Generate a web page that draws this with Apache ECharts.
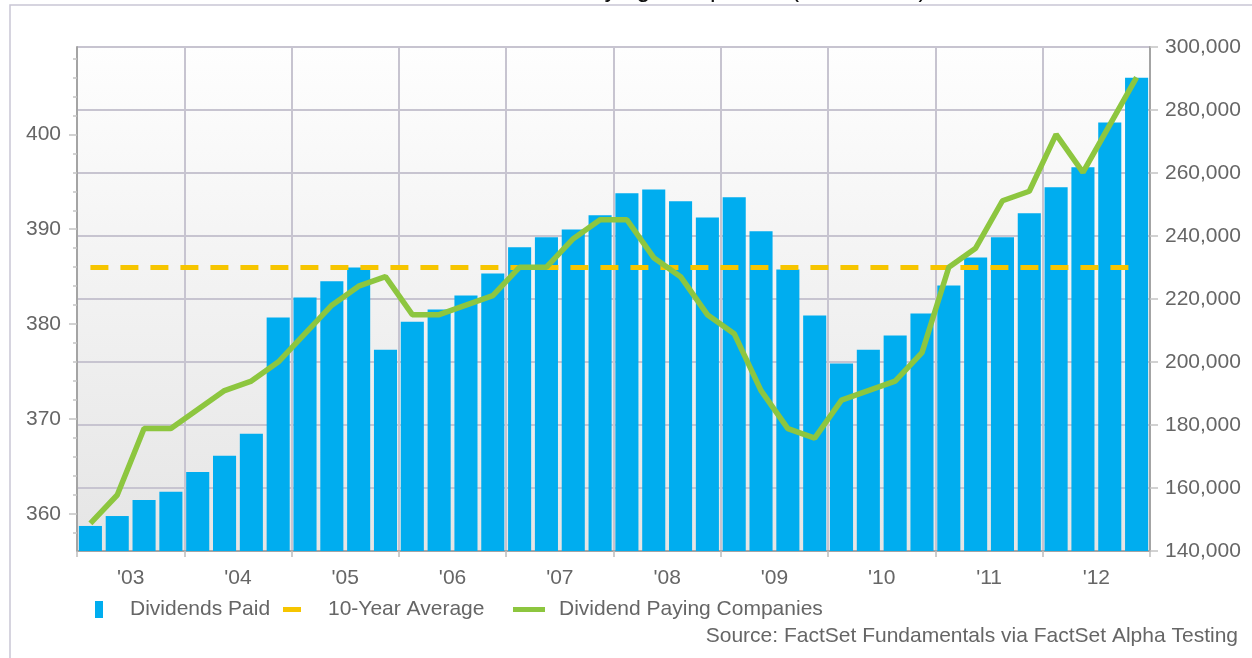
<!DOCTYPE html>
<html>
<head>
<meta charset="utf-8">
<script src="https://cdn.jsdelivr.net/npm/echarts@6/dist/echarts.min.js"></script>
<style>
html,body{margin:0;padding:0;background:#fff;}
#chart{width:1252px;height:658px;}
</style>
</head>
<body>
<div id="chart"></div>
<script>
// ---- data ----
const yearLabels = ["'03","'04","'05","'06","'07","'08","'09","'10","'11","'12"];
const quarters = [
  "Q1 03","Q2 03","Q3 03","Q4 03","Q1 04","Q2 04","Q3 04","Q4 04",
  "Q1 05","Q2 05","Q3 05","Q4 05","Q1 06","Q2 06","Q3 06","Q4 06",
  "Q1 07","Q2 07","Q3 07","Q4 07","Q1 08","Q2 08","Q3 08","Q4 08",
  "Q1 09","Q2 09","Q3 09","Q4 09","Q1 10","Q2 10","Q3 10","Q4 10",
  "Q1 11","Q2 11","Q3 11","Q4 11","Q1 12","Q2 12","Q3 12","Q4 12"
];
// Dividends Paid (right axis)
const dividendsPaid = [
  147950,151100,156200,158800,165100,170200,177200,214100,
  220500,225600,230000,203900,212800,216700,221100,228100,
  236400,239600,242100,246600,253600,254800,251000,245900,
  252300,241500,229400,214800,199500,203900,208400,215400,
  224300,233200,239600,247200,255500,261800,276000,290200
];
// Dividend Paying Companies (left axis)
const payingCompanies = [
  359,362,369,369,371,373,374,376,
  379,382,384,385,381,381,382,383,
  386,386,389,391,391,387,385,381,
  379,373,369,368,372,373,374,377,
  386,388,393,394,400,396,401,406
];
// 10-Year Average (right-axis units)
const tenYearAverage = 230000;
const leftLabelTicks = [360,370,380,390,400];
const leftMinorTicks = [358,362,364,366,368,372,374,376,378,382,384,386,388,392,394,396,398,402,404,406,408];
const rightTicks = {min:140000, max:300000, step:20000};

const FONT = '"Liberation Sans", Arial, Helvetica, sans-serif';
const GRID_LINE = '#c7c4d0';
const AXIS_LINE = '#a4a4a4';
const TEXT = '#666666';

const chart = echarts.init(document.getElementById('chart'), null, {renderer:'canvas'});
chart.setOption({
  animation: false,
  backgroundColor: '#ffffff',
  textStyle: {fontFamily: FONT},
  title: {
    text: 'S&P 500 Dividend Paying Companies (2003-2012)',
    left: 359, top: -27,
    textStyle: {fontSize: 25, color: '#111', fontWeight: 'normal', fontFamily: FONT}
  },
  graphic: [
    {type:'rect', z:-10, silent:true, shape:{x:10,y:5,width:1400,height:800},
     style:{fill:'none', stroke:'#c9c6d5', lineWidth:1.5}},
    {type:'text', right: 14, top: 626, silent:true,
     style:{text:'Source: FactSet Fundamentals via FactSet Alpha Testing', fill: TEXT,
            font: '21px ' + FONT, textAlign:'right'}}
  ],
  grid: {
    left: 77, right: 102, top: 47, bottom: 107, containLabel: false,
    show: true, borderWidth: 0,
    backgroundColor: new echarts.graphic.LinearGradient(0,0,0,1,[
      {offset:0, color:'#fefefe'},{offset:1, color:'#e5e5e5'}])
  },
  legend: [
    {data:['Dividends Paid'], left: 95, top: 599, padding: 0, icon:'rect',
     itemWidth: 8, itemHeight: 17, itemStyle:{borderWidth:0},
     textStyle:{fontSize:21, color:TEXT, fontFamily:FONT, padding:[0,0,0,22]}},
    {data:['10-Year Average'], left: 283, top: 599, padding: 0, icon:'rect',
     itemWidth: 18, itemHeight: 5, itemStyle:{borderWidth:0},
     textStyle:{fontSize:21, color:TEXT, fontFamily:FONT, padding:[0,0,0,22]}},
    {data:['Dividend Paying Companies'], left: 513, top: 599, padding: 0, icon:'rect',
     itemWidth: 32, itemHeight: 5, itemStyle:{borderWidth:0},
     textStyle:{fontSize:21, color:TEXT, fontFamily:FONT, padding:[0,0,0,9]}}
  ],
  xAxis: [
    {type:'category', data: yearLabels, position:'bottom', boundaryGap:true,
     axisLine:{show:true, lineStyle:{color:AXIS_LINE, width:2}},
     axisTick:{show:true, interval:0, length:6, lineStyle:{color:'#bdbdbd', width:1.5}},
     axisLabel:{fontSize:21, color:TEXT, margin:17, fontFamily:FONT, interval:0},
     splitLine:{show:true, interval:0, lineStyle:{color:GRID_LINE, width:2}}},
    {type:'category', data: quarters, position:'bottom', boundaryGap:true, show:false}
  ],
  yAxis: [
    {type:'value', position:'left', min:356.1, max:409.2,
     axisLine:{show:true, lineStyle:{color:AXIS_LINE, width:2}},
     axisTick:{show:true, customValues: leftLabelTicks, length:8, lineStyle:{color:'#c4c4c4', width:1.5}},
     axisLabel:{show:true, customValues: leftLabelTicks, fontSize:21, color:TEXT, margin:16, fontFamily:FONT},
     splitLine:{show:false}},
    {type:'value', position:'right', min:rightTicks.min, max:rightTicks.max, interval:rightTicks.step,
     axisLine:{show:true, lineStyle:{color:AXIS_LINE, width:2}},
     axisTick:{show:true, length:8, lineStyle:{color:'#c4c4c4', width:1.5}},
     axisLabel:{fontSize:21, color:TEXT, margin:15, fontFamily:FONT,
       formatter: v => v.toLocaleString('en-US')},
     splitLine:{show:true, lineStyle:{color:GRID_LINE, width:2}}},
    {type:'value', position:'left', min:356.1, max:409.2,
     axisLine:{show:false},
     axisTick:{show:true, customValues: leftMinorTicks, length:4, lineStyle:{color:'#c4c4c4', width:1.5}},
     axisLabel:{show:false}, splitLine:{show:false}}
  ],
  series: [
    {name:'Dividends Paid', type:'bar', xAxisIndex:1, yAxisIndex:1,
     data: dividendsPaid, barCategoryGap:'14%', color:'#00adef',
     itemStyle:{color:'#00adef'}, z:2},
    {name:'10-Year Average', type:'line', xAxisIndex:1, yAxisIndex:1,
     data: quarters.map(() => tenYearAverage), symbol:'none', color:'#f6c500',
     lineStyle:{color:'#f6c500', width:5, type:[18,12]}, z:3},
    {name:'Dividend Paying Companies', type:'line', xAxisIndex:1, yAxisIndex:0,
     data: payingCompanies, symbol:'none', color:'#8dc63f',
     lineStyle:{color:'#8dc63f', width:5.5}, z:4}
  ]
});
</script>
</body>
</html>
